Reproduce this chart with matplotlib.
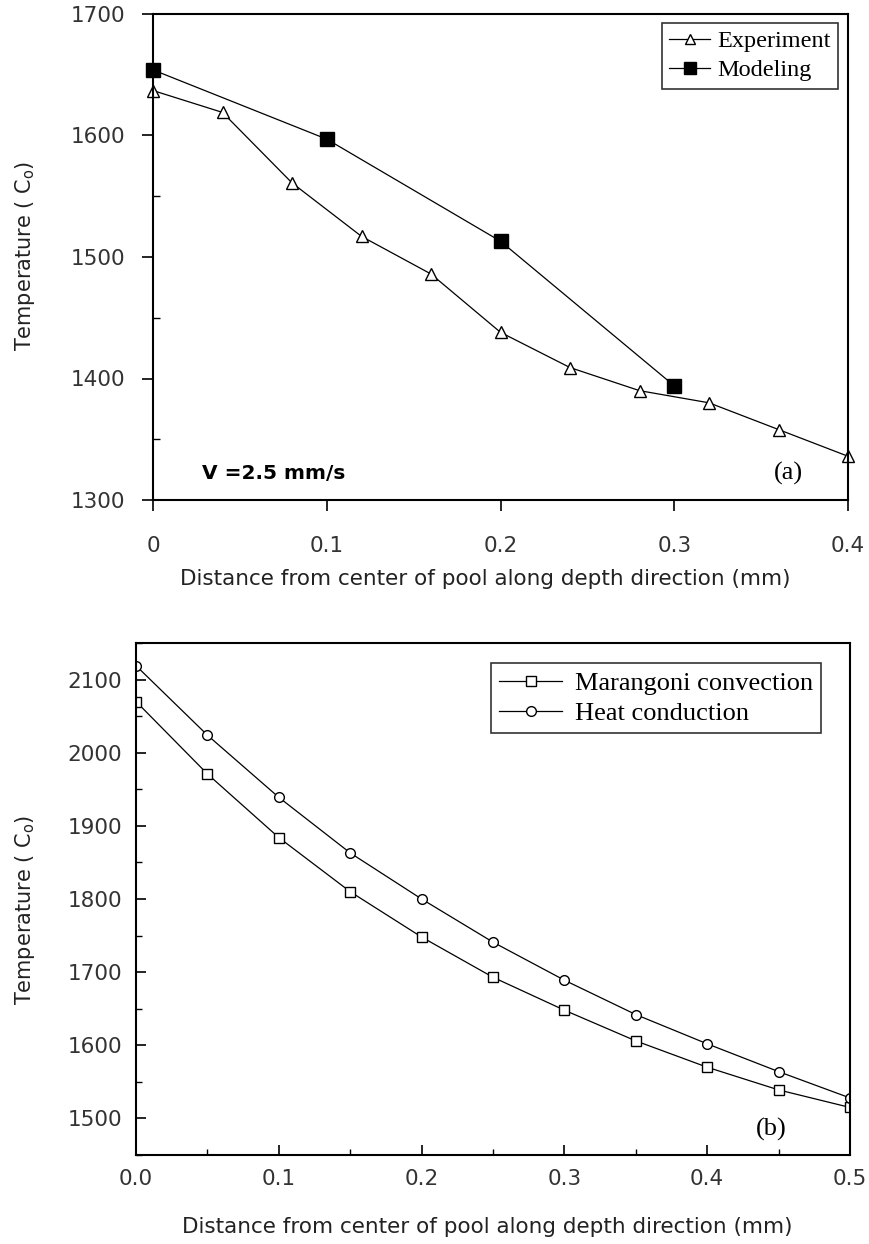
import matplotlib
matplotlib.use("Agg")
import matplotlib.pyplot as plt
from matplotlib.ticker import MultipleLocator, FixedLocator

# (a) experiment vs modeling, V = 2.5 mm/s
exp_x = [0, 0.04, 0.08, 0.12, 0.16, 0.2, 0.24, 0.28, 0.32, 0.36, 0.4]
exp_t = [1637, 1619, 1561, 1517, 1486, 1438, 1409, 1390, 1380, 1358, 1336]
mod_x = [0, 0.1, 0.2, 0.3]
mod_t = [1654, 1597, 1513, 1394]

# (b) marangoni convection vs heat conduction
b_x = [0, 0.05, 0.1, 0.15, 0.2, 0.25, 0.3, 0.35, 0.4, 0.45, 0.5]
mar_t = [2070, 1971, 1884, 1810, 1748, 1693, 1648, 1606, 1570, 1539, 1515]
heat_t = [2119, 2024, 1939, 1863, 1800, 1741, 1689, 1642, 1602, 1564, 1528]

W, H = 869, 1244
fig = plt.figure(figsize=(W / 100, H / 100), dpi=100)
fig.patch.set_facecolor("white")

tick_col = "#333333"
serif = "Liberation Serif"
xlab = "Distance from center of pool along depth direction (mm)"
ylab = r"Temperature ( C$_\mathregular{o}$)"


def box(l, t, r, b):
    return [l / W, 1 - b / H, (r - l) / W, (b - t) / H]


# ---- top panel
ax1 = fig.add_axes(box(153, 14, 848, 500))
ax1.plot(exp_x, exp_t, color="black", lw=0.9, marker="^", ms=8,
         mfc="white", mec="black", mew=1.0, clip_on=False, label="Experiment")
ax1.plot(mod_x, mod_t, color="black", lw=0.9, marker="s", ms=9.5,
         mfc="black", mec="black", clip_on=False, label="Modeling")
ax1.set_xlim(0, 0.4)
ax1.set_ylim(1300, 1700)
ax1.xaxis.set_major_locator(FixedLocator([0, 0.1, 0.2, 0.3, 0.4]))
ax1.set_xticklabels(["0", "0.1", "0.2", "0.3", "0.4"])
ax1.yaxis.set_major_locator(MultipleLocator(100))
ax1.yaxis.set_minor_locator(MultipleLocator(50))
ax1.tick_params(which="major", direction="out", length=8, width=1.2,
                labelsize=15.5, labelcolor=tick_col)
ax1.tick_params(axis="x", which="major", pad=18)
ax1.tick_params(axis="y", which="major", pad=12)
ax1.tick_params(axis="y", which="minor", direction="in", length=5, width=1)
for s in ax1.spines.values():
    s.set_linewidth(1.5)
leg1 = ax1.legend(loc="upper right", bbox_to_anchor=(0.986, 0.982),
                  prop={"family": serif, "size": 17.5}, frameon=True,
                  fancybox=False, edgecolor="black", handlelength=1.7,
                  handletextpad=0.3, borderpad=0.3, labelspacing=0.3,
                  borderaxespad=0, markerscale=0.85)
leg1.get_frame().set_linewidth(1.2)
ax1.text(0.07, 0.055, "V =2.5 mm/s", transform=ax1.transAxes,
         fontsize=14.5, fontweight="bold", va="center", ha="left")
ax1.text(0.915, 0.055, "(a)", transform=ax1.transAxes, family=serif,
         fontsize=19, va="center", ha="center")
fig.text(485 / W, 1 - 579 / H, xlab, fontsize=15.5, color="#222222",
         ha="center", va="center")
fig.text(25 / W, 1 - 256 / H, ylab, fontsize=15, color="#222222",
         rotation=90, ha="center", va="center")

# ---- bottom panel
ax2 = fig.add_axes(box(136, 643, 850, 1155))
ax2.plot(b_x, mar_t, color="black", lw=0.9, marker="s", ms=7,
         mfc="white", mec="black", mew=1.0, label="Marangoni convection")
ax2.plot(b_x, heat_t, color="black", lw=0.9, marker="o", ms=7,
         mfc="white", mec="black", mew=1.0, label="Heat conduction")
ax2.set_xlim(0, 0.5)
ax2.set_ylim(1450, 2150)
ax2.set_xticks([0, 0.1, 0.2, 0.3, 0.4, 0.5])
ax2.set_xticklabels(["0.0", "0.1", "0.2", "0.3", "0.4", "0.5"])
ax2.xaxis.set_minor_locator(MultipleLocator(0.05))
ax2.yaxis.set_major_locator(FixedLocator([1500, 1600, 1700, 1800, 1900, 2000, 2100]))
ax2.yaxis.set_minor_locator(MultipleLocator(50))
ax2.tick_params(which="major", direction="in", length=7, width=1.2,
                labelsize=15.5, labelcolor=tick_col, pad=10)
ax2.tick_params(which="minor", direction="in", length=4, width=1)
for s in ax2.spines.values():
    s.set_linewidth(1.5)
leg2 = ax2.legend(loc="upper right", bbox_to_anchor=(0.96, 0.96),
                  prop={"family": serif, "size": 19}, frameon=True,
                  fancybox=False, edgecolor="black", handlelength=2.4,
                  handletextpad=0.5, borderpad=0.3, labelspacing=0.25,
                  borderaxespad=0)
leg2.get_frame().set_linewidth(1.2)
ax2.text(0.89, 0.05, "(b)", transform=ax2.transAxes, family=serif,
         fontsize=19, va="center", ha="center")
fig.text(487 / W, 1 - 1227 / H, xlab, fontsize=15.5, color="#222222",
         ha="center", va="center")
fig.text(25 / W, 1 - 910 / H, ylab, fontsize=15, color="#222222",
         rotation=90, ha="center", va="center")

fig.savefig("out.png", dpi=100, facecolor="white")
